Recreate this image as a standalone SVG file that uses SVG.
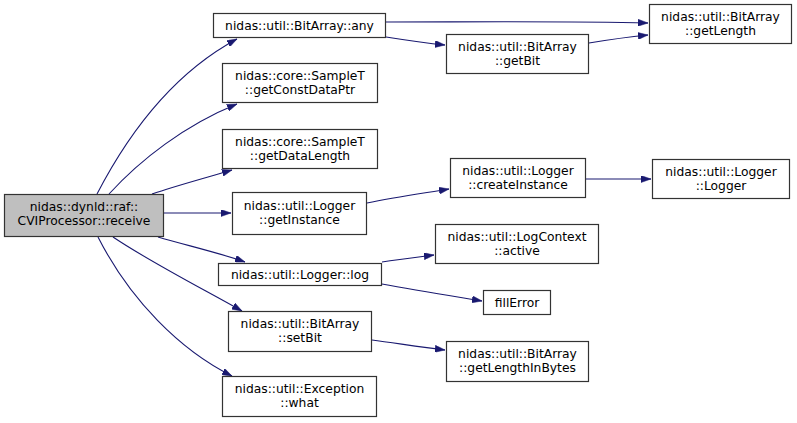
<svg xmlns="http://www.w3.org/2000/svg" width="797" height="423" viewBox="0 0 797 423">
<defs>
<marker id="ah" viewBox="0 0 10 7" refX="10" refY="3.5" markerWidth="10" markerHeight="7" markerUnits="userSpaceOnUse" orient="auto">
<path d="M0,0 L10,3.5 L0,7 Z" fill="#191970" stroke="#191970" stroke-width="0.5"/>
</marker>
<style>
.n rect{fill:#ffffff;stroke:#333333;stroke-width:1.2;}
.n.root rect{fill:#bfbfbf;stroke:#333333;}
.n text{font-family:"DejaVu Sans",sans-serif;font-size:12.3px;fill:#000000;text-anchor:middle;}
.e path{fill:none;stroke:#191970;stroke-width:1.1;marker-end:url(#ah);}
</style>
</defs>
<rect width="797" height="423" fill="#ffffff"/>
<g class="e" id="connectors">
<path d="M97,194 C125,140 170,75 237,39"/>
<path d="M109,194 C140,160 185,125 237,104"/>
<path d="M152,194 C175,186 205,178 232,170"/>
<path d="M164,213 L231,213"/>
<path d="M158,237 C185,245 220,253 245,262"/>
<path d="M113,237 C150,262 205,290 242,311"/>
<path d="M98,237 C130,300 180,350 232,376"/>
<path d="M386,22 C470,22 570,21 648,23"/>
<path d="M386,37 C405,40 425,43 445,45"/>
<path d="M589,43 C607,40 628,37 648,35"/>
<path d="M367,203 C395,197 425,193 449,189"/>
<path d="M586,179 L651,179"/>
<path d="M382,262 C400,259 418,257 434,255"/>
<path d="M382,284 C415,290 452,296 482,301"/>
<path d="M372,340 C395,343 420,347 445,350"/>
</g>
<g class="n root" id="node_receive"><rect x="4.5" y="194.5" width="159" height="42"/><text x="84" y="211">nidas::dynld::raf::</text><text x="84" y="225">CVIProcessor::receive</text></g>
<g class="n" id="node_any"><rect x="213.5" y="13.5" width="172" height="24"/><text x="299.5" y="30">nidas::util::BitArray::any</text></g>
<g class="n" id="node_getConstDataPtr"><rect x="222.5" y="63.5" width="155" height="39"/><text x="300" y="80">nidas::core::SampleT</text><text x="300" y="94">::getConstDataPtr</text></g>
<g class="n" id="node_getDataLength"><rect x="222.5" y="129.5" width="155" height="39"/><text x="300" y="146">nidas::core::SampleT</text><text x="300" y="160">::getDataLength</text></g>
<g class="n" id="node_getInstance"><rect x="232.5" y="192.5" width="134" height="42"/><text x="299.5" y="210">nidas::util::Logger</text><text x="299.5" y="224">::getInstance</text></g>
<g class="n" id="node_log"><rect x="218.5" y="263.5" width="163" height="22"/><text x="300" y="279">nidas::util::Logger::log</text></g>
<g class="n" id="node_setBit"><rect x="228.5" y="311.5" width="143" height="40"/><text x="300" y="328">nidas::util::BitArray</text><text x="300" y="342">::setBit</text></g>
<g class="n" id="node_what"><rect x="222.5" y="376.5" width="154" height="40"/><text x="299.5" y="393">nidas::util::Exception</text><text x="299.5" y="407">::what</text></g>
<g class="n" id="node_getBit"><rect x="446.5" y="34.5" width="142" height="39"/><text x="517.5" y="51">nidas::util::BitArray</text><text x="517.5" y="65">::getBit</text></g>
<g class="n" id="node_getLength"><rect x="649.5" y="4.5" width="142" height="39"/><text x="720.5" y="21">nidas::util::BitArray</text><text x="720.5" y="35">::getLength</text></g>
<g class="n" id="node_createInstance"><rect x="450.5" y="158.5" width="135" height="39"/><text x="518" y="175">nidas::util::Logger</text><text x="518" y="189">::createInstance</text></g>
<g class="n" id="node_Logger"><rect x="652.5" y="159.5" width="137" height="39"/><text x="721" y="176">nidas::util::Logger</text><text x="721" y="190">::Logger</text></g>
<g class="n" id="node_active"><rect x="435.5" y="224.5" width="163" height="39"/><text x="517" y="241">nidas::util::LogContext</text><text x="517" y="255">::active</text></g>
<g class="n" id="node_fillError"><rect x="483.5" y="290.5" width="67" height="24"/><text x="517" y="307">fillError</text></g>
<g class="n" id="node_getLengthInBytes"><rect x="446.5" y="341.5" width="142" height="40"/><text x="517.5" y="358">nidas::util::BitArray</text><text x="517.5" y="372">::getLengthInBytes</text></g>
</svg>
